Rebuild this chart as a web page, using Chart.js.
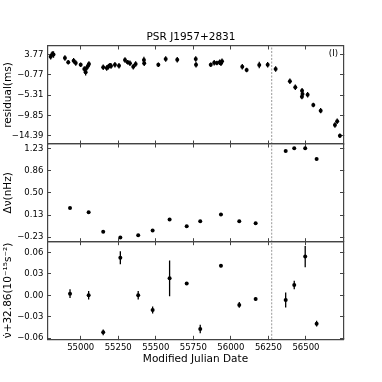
<!DOCTYPE html>
<html>
<head>
<meta charset="utf-8">
<title>PSR J1957+2831</title>
<script src="https://cdn.jsdelivr.net/npm/chart.js@4.4.0/dist/chart.umd.min.js"></script>
<style>
  html, body { margin: 0; padding: 0; background: #fff; }
  #wrap { position: relative; width: 382px; height: 382px; }
  #wrap canvas { position: absolute; left: 0; top: 0; }
</style>
</head>
<body>
<div id="wrap">
  <canvas id="resChart" width="382" height="382"></canvas>
  <canvas id="nuChart" width="382" height="382"></canvas>
  <canvas id="nuDotChart" width="382" height="382"></canvas>
</div>
<script>
// timing residuals (top panel)
const resMjd = [54800, 54811, 54819, 54895, 54917, 54953, 54967, 55000, 55024, 55033,
    55039, 55049, 55055, 55150, 55173, 55184, 55195, 55202, 55228, 55255,
    55295, 55313, 55328, 55350, 55366, 55421, 55423, 55517, 55566, 55643,
    55766, 55768, 55866, 55889, 55907, 55925, 55934, 55941, 56076, 56105,
    56189, 56245, 56298, 56393, 56429, 56473, 56474, 56477, 56511, 56549,
    56598, 56693, 56708, 56726];
const residual = [3.24, 3.84, 3.73, 2.95, 1.99, 2.35, 1.84, 1.46, 0.50, -0.23,
    0.73, 1.24, 1.61, 0.88, 0.73, 1.01, 1.33, 1.17, 1.46, 1.24,
    2.50, 1.99, 1.77, 1.01, 1.61, 2.50, 1.77, 1.46, 2.73, 2.57,
    2.73, 1.46, 1.46, 1.90, 1.84, 1.99, 1.77, 2.21, 1.01, 0.28,
    1.39, 1.46, 0.50, -2.23, -3.56, -5.65, -4.32, -5.05, -5.21, -7.50,
    -8.76, -11.94, -11.12, -14.32];
const residualErr = [0.6, 0.6, 0.7, 0.6, 0.5, 0.6, 0.6, 0.5, 0.6, 0.7,
    0.6, 0.6, 0.6, 0.6, 0.6, 0.6, 0.5, 0.6, 0.6, 0.6,
    0.6, 0.5, 0.6, 0.6, 0.6, 0.7, 0.6, 0.5, 0.6, 0.6,
    0.6, 0.6, 0.5, 0.6, 0.5, 0.6, 0.6, 0.6, 0.6, 0.5,
    0.7, 0.6, 0.6, 0.6, 0.6, 0.6, 0.6, 0.6, 0.6, 0.5,
    0.6, 0.6, 0.6, 0.5];

// local fits of nu and nu-dot (middle and bottom panels)
const fitMjd = [54929, 55053, 55150, 55264, 55383, 55479, 55592, 55706,
    55796, 55934, 56056, 56165, 56365, 56422, 56495, 56571];
const deltaNu = [0.247, 0.181, -0.143, -0.235, -0.197, -0.120, 0.061, -0.049,
    0.033, 0.143, 0.033, 0.000, 1.186, 1.230, 1.230, 1.054];
const nuDot = [0.0023, 0.0000, -0.0516, 0.0525, 0.0000, -0.0205, 0.0237, 0.0163,
    -0.0470, 0.0413, -0.0135, -0.0051, -0.0066, 0.0144, 0.0540, -0.0396];
const nuDotErr = [0.006, 0.006, 0.004, 0.009, 0.006, 0.005, 0.025, 0.002,
    0.006, 0.002, 0.004, 0.002, 0.0105, 0.006, 0.0147, 0.004];

const glitchMjd = [56272];

// tick labels
const mjdTicks = [55000, 55250, 55500, 55750, 56000, 56250, 56500];
const resTicks = [3.77, -0.77, -5.31, -9.85, -14.39];
const nuTicks = [1.23, 0.86, 0.50, 0.13, -0.23];
const nuDotTicks = [0.06, 0.03, 0.00, -0.03, -0.06];

const FRAME = '#444';
const FONT = 'DejaVu Sans';
const tickFont = { family: FONT, size: 8.5 };
const labelFont = { family: FONT, size: 10.5 };

// plot box edges (px) shared by all three panels
const PLOT_LEFT = 47.5, PLOT_RIGHT = 343.5;
const TITLE_BOX = 43.3;

function fixedSize(size) {
    return scale => {
        if (scale.isHorizontal()) scale.height = size;
        else scale.width = size;
    };
}

function useTicks(values) {
    return scale => { scale.ticks = values.map(v => ({ value: v })); };
}

function grid() {
    return { drawOnChartArea: false, drawTicks: true, tickLength: -3.5, color: FRAME, lineWidth: 1 };
}

function fmt(v) {
    return v.toFixed(2).replace('-', '\u2212');
}

// error bars as broken line segments
function errorBars(xs, ys, errs) {
    const pts = [];
    xs.forEach((x, i) => {
        pts.push({ x: x, y: ys[i] - errs[i] });
        pts.push({ x: x, y: ys[i] + errs[i] });
        pts.push({ x: x, y: null });
    });
    return pts;
}

const panelLabel = {
    id: 'panelLabel',
    afterDatasetsDraw(chart, args, opts) {
        if (!opts.text) return;
        const { ctx, chartArea } = chart;
        ctx.save();
        ctx.font = '8.5px ' + FONT;
        ctx.fillStyle = '#000';
        ctx.textAlign = 'right';
        ctx.textBaseline = 'middle';
        ctx.fillText(opts.text, chartArea.right - 5.5, chartArea.top + 7.5);
        ctx.restore();
    }
};

function makePanel(id, p) {
    const datasets = [
        {
            data: glitchMjd.flatMap(g => [{ x: g, y: p.min }, { x: g, y: p.max }, { x: g, y: null }]),
            showLine: true, spanGaps: false, borderColor: '#999', borderWidth: 1,
            borderDash: [2, 1.5], pointRadius: 0, order: 3
        },
        {
            data: p.xs.map((x, i) => ({ x: x, y: p.ys[i] })),
            pointRadius: 2, pointBackgroundColor: '#000', pointBorderWidth: 0, order: 1
        }
    ];
    if (p.errs) {
        datasets.push({
            data: errorBars(p.xs, p.ys, p.errs),
            showLine: true, spanGaps: false, borderColor: '#000', borderWidth: 1.3,
            pointRadius: 0, order: 2
        });
    }

    const border = { display: true, color: FRAME, width: 1.2 };
    const xBase = { type: 'linear', min: 54779, max: 56750, grid: grid(), border: border,
        afterBuildTicks: useTicks(mjdTicks) };
    const yBase = { type: 'linear', min: p.min, max: p.max, grid: grid(), border: border,
        afterBuildTicks: useTicks(p.ticks) };

    return new Chart(document.getElementById(id).getContext('2d'), {
        type: 'scatter',
        data: { datasets: datasets },
        options: {
            responsive: false,
            animation: false,
            layout: { padding: 0 },
            plugins: {
                legend: { display: false },
                tooltip: { enabled: false },
                title: p.title ? {
                    display: true, text: p.title, color: '#000',
                    font: { family: FONT, size: 10.5, weight: 'normal' },
                    padding: { top: TITLE_BOX - 12.6, bottom: 0 }
                } : { display: false },
                panelLabel: { text: p.label || '' }
            },
            scales: {
                x: Object.assign({}, xBase, {
                    position: 'bottom',
                    ticks: { display: !!p.xTitle, autoSkip: false, maxRotation: 0, padding: 6.6,
                        font: tickFont, color: '#000', callback: v => String(v) },
                    title: p.xTitle ? { display: true, text: p.xTitle, color: '#000', font: labelFont,
                        padding: { top: 0, bottom: 16.4 } } : { display: false },
                    afterFit: fixedSize(382 - p.bottom)
                }),
                x2: Object.assign({}, xBase, {
                    position: 'top',
                    ticks: { display: false },
                    afterFit: fixedSize(p.title ? p.top - TITLE_BOX : p.top)
                }),
                y: Object.assign({}, yBase, {
                    position: 'left',
                    ticks: { padding: 7.7, font: tickFont, color: '#000', callback: v => fmt(v) },
                    title: { display: true, text: p.yTitle, color: '#000', font: labelFont,
                        padding: { top: 2, bottom: 0 } },
                    afterFit: fixedSize(PLOT_LEFT)
                }),
                y2: Object.assign({}, yBase, {
                    position: 'right',
                    ticks: { display: false },
                    afterFit: fixedSize(382 - PLOT_RIGHT)
                })
            }
        },
        plugins: [panelLabel]
    });
}

makePanel('resChart', {
    top: 46, bottom: 144, min: -16.17, max: 5.615, ticks: resTicks,
    xs: resMjd, ys: residual, errs: residualErr,
    title: 'PSR J1957+2831', label: '(I)', yTitle: 'residual(ms)'
});

makePanel('nuChart', {
    top: 144, bottom: 241.7, min: -0.305, max: 1.301, ticks: nuTicks,
    xs: fitMjd, ys: deltaNu,
    yTitle: '\u0394\u03bd(nHz)'
});

makePanel('nuDotChart', {
    top: 241.7, bottom: 339.3, min: -0.0614, max: 0.0748, ticks: nuDotTicks,
    xs: fitMjd, ys: nuDot, errs: nuDotErr,
    yTitle: '\u03bd\u0307+32.86(10\u207b\u00b9\u2075s\u207b\u00b2)', xTitle: 'Modified Julian Date'
});
</script>
</body>
</html>
